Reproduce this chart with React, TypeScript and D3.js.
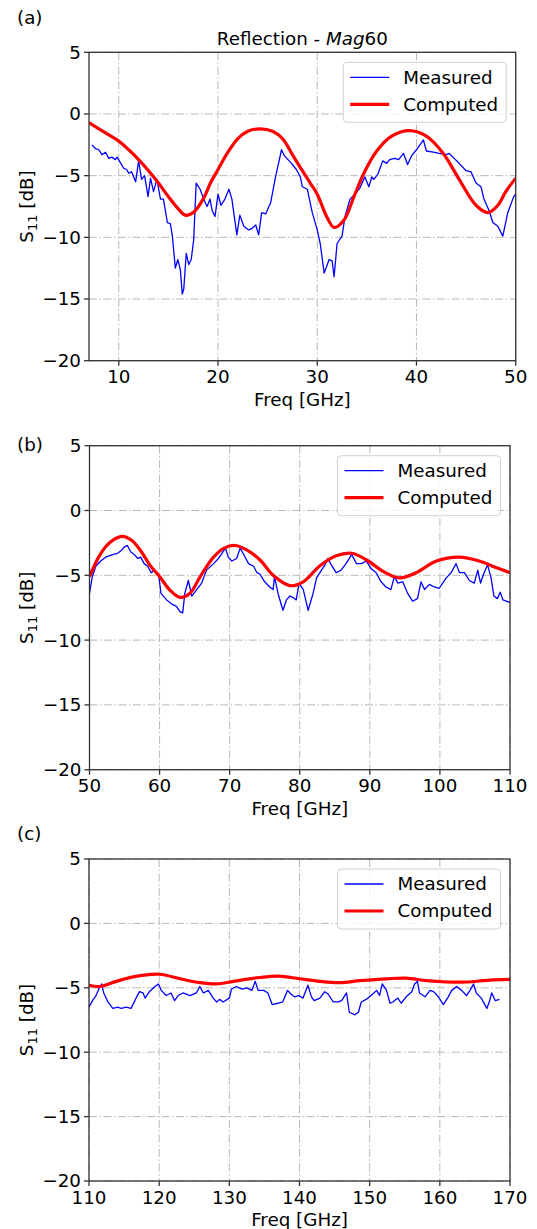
import React from "react";
import * as d3 from "d3";

// S11 readings [GHz, dB] taken off the three panels
const measuredA: [number, number][] = [
  [7.3, -2.5], [7.65, -2.8], [8.0, -2.9], [8.3, -3.3], [8.66, -3.1], [9.0, -3.6], [9.3, -3.5], [9.66, -3.7],
  [9.83, -3.5], [10.2, -4.0], [10.5, -4.4], [10.8, -4.5], [11.0, -4.8], [11.3, -4.7], [11.7, -5.5], [12.0, -3.8],
  [12.3, -5.3], [12.6, -5.0], [12.95, -6.7], [13.2, -5.2], [13.5, -6.3], [13.85, -5.3], [14.2, -6.9], [14.5, -6.9],
  [14.9, -8.8], [15.2, -8.9], [15.4, -9.9], [15.7, -12.5], [15.95, -11.8], [16.2, -12.6], [16.4, -14.6], [16.55, -14.2],
  [16.8, -11.3], [17.05, -12.2], [17.3, -11.8], [17.55, -10.2], [17.8, -5.6], [18.2, -6.1], [18.55, -6.9], [18.9, -7.5],
  [19.2, -6.9], [19.4, -7.8], [19.7, -8.3], [20.0, -6.5], [20.3, -7.4], [20.7, -6.9], [21.1, -6.1], [21.4, -6.9],
  [21.9, -9.8], [22.2, -8.2], [22.6, -9.1], [23.1, -9.4], [23.4, -9.3], [23.8, -9.0], [24.1, -9.8], [24.4, -8.0],
  [24.8, -8.1], [25.3, -7.2], [25.8, -5.1], [26.4, -2.9], [26.7, -3.4], [27.4, -4.0], [27.9, -4.5], [28.3, -5.1],
  [28.5, -5.9], [29.0, -6.1], [29.5, -8.0], [30.0, -9.4], [30.3, -10.5], [30.7, -12.9], [31.2, -11.8], [31.5, -11.9],
  [31.7, -13.2], [32.0, -10.5], [32.5, -9.9], [32.8, -8.3], [33.3, -6.9], [33.8, -6.5], [34.3, -6.0], [34.8, -5.1],
  [35.2, -5.9], [35.5, -5.1], [35.7, -5.3], [36.1, -4.9], [36.6, -3.8], [37.0, -4.0], [37.3, -3.7], [37.8, -3.6],
  [38.2, -3.7], [38.7, -3.2], [39.1, -4.1], [39.5, -3.4], [40.0, -2.9], [40.7, -2.1], [41.0, -3.0], [41.7, -3.1],
  [42.3, -3.2], [43.0, -3.3], [43.3, -3.2], [43.8, -3.6], [44.3, -4.0], [45.0, -4.6], [45.5, -4.7], [46.0, -5.6],
  [46.5, -5.9], [46.8, -6.9], [47.3, -7.8], [47.7, -8.8], [48.2, -9.1], [48.7, -9.9], [49.2, -8.0], [49.8, -6.7],
  [50.0, -6.5],
];
const computedA: [number, number][] = [
  [7, -0.7], [8, -1.2], [9, -1.7], [10, -2.2], [11, -2.9], [12, -3.7], [13, -4.6], [14, -5.6], [15, -6.7],
  [16, -7.7], [16.7, -8.2], [17.5, -8.0], [18.5, -6.9], [19.3, -5.5], [20, -4.5], [21, -3.1], [22, -2.0],
  [23, -1.4], [24.2, -1.2], [25.5, -1.4], [26.5, -2.0], [27.5, -3.3], [28.5, -4.6], [29.3, -5.6], [30, -6.5],
  [31, -8.4], [31.7, -9.2], [32.7, -8.6], [33.7, -6.7], [34.7, -4.8], [36, -3.0], [37.5, -1.8], [39.3, -1.35],
  [41, -1.8], [42.7, -3.2], [44.3, -5.3], [46, -7.4], [47.2, -8.0], [48.2, -7.4], [49, -6.3], [50, -5.2],
];

const measuredB: [number, number][] = [
  [50, -6.4], [50.4, -5.1], [50.9, -4.3], [51.6, -3.9], [52.3, -3.6], [53.3, -3.4], [54.0, -3.3], [54.5, -3.1],
  [55.0, -2.8], [55.4, -2.7], [55.9, -3.2], [56.4, -3.4], [56.9, -3.7], [57.3, -3.6], [57.8, -4.1], [58.3, -4.3],
  [58.8, -4.8], [59.3, -4.6], [59.9, -5.1], [60.2, -6.4], [61.0, -6.9], [61.7, -7.2], [62.4, -7.4], [62.9, -7.8],
  [63.3, -7.9], [63.6, -6.4], [64.1, -5.4], [64.6, -6.6], [65.3, -6.1], [66.0, -5.6], [66.7, -4.6], [67.7, -4.1],
  [68.4, -3.7], [68.9, -3.3], [69.4, -2.9], [69.8, -3.6], [70.3, -3.9], [71.0, -3.7], [71.5, -2.9], [72.0, -3.4],
  [72.7, -4.1], [73.4, -4.3], [73.9, -4.8], [74.3, -4.9], [75.0, -5.5], [75.7, -5.9], [76.2, -6.1], [76.4, -5.1],
  [76.9, -6.4], [77.6, -7.7], [78.1, -6.9], [78.6, -6.6], [79.0, -6.7], [79.5, -6.9], [79.9, -5.6], [80.5, -6.1],
  [81.2, -7.7], [81.9, -6.4], [82.4, -5.2], [83.1, -4.6], [83.6, -4.2], [84.0, -3.7], [84.5, -4.2], [85.2, -4.8],
  [85.9, -4.6], [86.6, -4.1], [87.4, -3.4], [88.1, -4.1], [88.8, -4.1], [89.5, -3.9], [90.2, -4.5], [90.9, -4.8],
  [91.6, -5.5], [92.3, -5.9], [93.0, -6.1], [93.5, -5.1], [94.0, -5.6], [94.7, -5.5], [95.4, -6.4], [96.1, -7.0],
  [96.8, -6.8], [97.3, -5.5], [97.8, -6.1], [98.5, -5.7], [99.2, -5.9], [99.9, -6.0], [100.4, -5.6], [100.9, -5.2],
  [101.6, -4.8], [102.3, -4.1], [102.8, -4.8], [103.5, -4.8], [104.2, -5.4], [104.9, -5.6], [105.4, -4.6], [105.8, -5.6],
  [106.3, -4.8], [106.8, -4.2], [107.3, -5.2], [107.7, -6.6], [108.2, -6.8], [108.6, -6.3], [109.0, -6.9], [110, -7.1],
];
const computedB: [number, number][] = [
  [50, -5.1], [51.3, -3.6], [52.3, -2.8], [53.3, -2.3], [54.7, -2.0], [56, -2.3], [57.3, -3.1], [58.6, -4.2],
  [60, -5.1], [61.4, -6.1], [62.9, -6.7], [64.3, -6.4], [65.8, -5.1], [67.7, -3.6], [69.2, -2.9], [70.8, -2.7],
  [72.3, -3.0], [74.3, -3.8], [76.2, -5.0], [78.6, -5.8], [80.5, -5.5], [82.8, -4.3], [85.2, -3.5], [87.4, -3.3],
  [89.5, -3.8], [91.9, -4.7], [94.2, -5.2], [96.6, -4.8], [99.5, -3.9], [102.8, -3.6], [105.6, -3.9], [108, -4.4],
  [110, -4.8],
];

const measuredC: [number, number][] = [
  [110, -6.5], [110.5, -6.0], [111, -5.6], [111.4, -5.1], [111.8, -4.7], [112.1, -5.4], [112.7, -6.1], [113.4, -6.6],
  [114.1, -6.5], [114.6, -6.6], [115.3, -6.5], [116, -6.6], [116.8, -5.7], [117.2, -5.3], [117.7, -5.4], [118.0, -5.8],
  [118.6, -5.3], [119.4, -4.9], [119.9, -4.7], [120.3, -5.2], [121, -5.6], [121.7, -5.4], [122.2, -6.0], [122.7, -5.6],
  [123.4, -5.4], [124.4, -5.6], [125.3, -5.4], [125.8, -4.9], [126.3, -5.4], [127, -5.2], [127.7, -5.8], [128.2, -6.1],
  [128.6, -5.9], [129.1, -6.1], [130, -5.8], [130.3, -5.1], [131, -4.9], [131.8, -5.1], [132.5, -5.0], [133.2, -5.2],
  [133.7, -4.5], [134.1, -5.2], [134.9, -5.2], [135.5, -5.4], [136.1, -6.3], [136.9, -6.2], [137.6, -6.1], [138.3, -5.2],
  [138.8, -5.5], [139.3, -5.7], [139.9, -5.6], [140.5, -5.8], [141.2, -4.8], [141.7, -5.7], [142.1, -6.0], [142.9, -5.8],
  [143.6, -5.3], [144.1, -5.5], [144.8, -6.1], [145.5, -6.1], [146, -6.0], [146.7, -5.4], [147.1, -6.9], [147.9, -7.1],
  [148.4, -6.9], [148.8, -6.1], [149.5, -5.9], [150.2, -5.6], [151, -5.2], [151.4, -5.6], [151.8, -4.7], [152.4, -5.2],
  [152.9, -6.2], [153.3, -6.1], [154, -5.8], [154.5, -6.2], [155.2, -5.7], [156, -5.3], [156.4, -4.7], [156.8, -4.5],
  [157.1, -5.4], [157.9, -5.7], [158.6, -5.2], [159.1, -5.3], [159.8, -5.7], [160.5, -6.3], [161.2, -5.7], [161.7, -5.2],
  [162.4, -4.9], [163.1, -5.2], [163.8, -5.6], [164.3, -5.2], [164.8, -4.7], [165.2, -5.4], [165.9, -5.8], [166.7, -6.6],
  [167.1, -6.0], [167.4, -5.4], [167.9, -6.0], [168.5, -5.9],
];
const computedC: [number, number][] = [
  [110, -4.8], [111.5, -4.9], [113.9, -4.5], [116.3, -4.15], [120, -3.95], [123, -4.3], [125.8, -4.6], [128.2, -4.7],
  [130.6, -4.5], [134.3, -4.2], [137.1, -4.1], [140, -4.3], [142.9, -4.5], [145.7, -4.6], [148.6, -4.45], [152.4, -4.3],
  [155.2, -4.25], [158.1, -4.45], [161, -4.55], [163.8, -4.55], [167.1, -4.4], [170, -4.35],
];

const yTicks = [5, 0, -5, -10, -15, -20];
const xTicksA = [10, 20, 30, 40, 50];
const xTicksB = [50, 60, 70, 80, 90, 100, 110];
const xTicksC = [110, 120, 130, 140, 150, 160, 170];
const legendLabels = ["Measured", "Computed"];

const FONT = "'DejaVu Sans', sans-serif";
const FS = 18.3;
const fmt = (v: number) => (v < 0 ? "\u2212" + Math.abs(v) : String(v));

type PanelProps = {
  id: string;
  tag: string;
  tagY: number;
  left: number;
  right: number;
  top: number;
  bottom: number;
  xDomain: [number, number];
  xTicks: number[];
  measured: [number, number][];
  computed: [number, number][];
  title?: boolean;
};

const Panel = (p: PanelProps) => {
  const x = d3.scaleLinear().domain(p.xDomain).range([p.left, p.right]);
  const y = d3.scaleLinear().domain([-20, 5]).range([p.bottom, p.top]);
  const line = d3.line<[number, number]>().x((d) => x(d[0])).y((d) => y(d[1]));
  const smooth = d3
    .line<[number, number]>()
    .x((d) => x(d[0]))
    .y((d) => y(d[1]))
    .curve(d3.curveCatmullRom);
  const cx = (p.left + p.right) / 2;
  const cy = (p.top + p.bottom) / 2;
  const lgRight = p.right - 9.5;
  const lgLeft = lgRight - 163;
  const lgTop = p.top + 10;

  return (
    <g>
      <text x={17} y={p.tagY} fontSize={FS}>{p.tag}</text>
      {p.title && (
        <text x={cx} y={45} fontSize={FS} textAnchor="middle">
          Reflection - <tspan fontStyle="italic">Mag</tspan>60
        </text>
      )}
      <clipPath id={"clip" + p.id}>
        <rect x={p.left} y={p.top} width={p.right - p.left} height={p.bottom - p.top} />
      </clipPath>
      {/* grid */}
      <g stroke="#b8b8b8" strokeWidth={1} strokeDasharray="8,2.5,1.5,2.5">
        {p.xTicks.map((t) => (
          <line key={"gx" + t} x1={x(t)} x2={x(t)} y1={p.top} y2={p.bottom} />
        ))}
        {yTicks.map((t) => (
          <line key={"gy" + t} x1={p.left} x2={p.right} y1={y(t)} y2={y(t)} />
        ))}
      </g>
      <g clipPath={`url(#clip${p.id})`} fill="none">
        <path d={line(p.measured) || ""} stroke="#0000ff" strokeWidth={1.3} strokeLinejoin="round" />
        <path d={smooth(p.computed) || ""} stroke="#ff0000" strokeWidth={3.2} />
      </g>
      {/* frame */}
      <rect x={p.left} y={p.top} width={p.right - p.left} height={p.bottom - p.top} fill="none" stroke="#333" strokeWidth={1.3} />
      {/* x ticks */}
      {p.xTicks.map((t) => (
        <g key={"tx" + t}>
          <line x1={x(t)} x2={x(t)} y1={p.bottom} y2={p.bottom + 5} stroke="#333" strokeWidth={1.3} />
          <text x={x(t)} y={p.bottom + 22.5} fontSize={FS} textAnchor="middle">{fmt(t)}</text>
        </g>
      ))}
      {yTicks.map((t) => (
        <g key={"ty" + t}>
          <line x1={p.left - 5} x2={p.left} y1={y(t)} y2={y(t)} stroke="#333" strokeWidth={1.3} />
          <text x={p.left - 8} y={y(t)} dy="0.35em" fontSize={FS} textAnchor="end">{fmt(t)}</text>
        </g>
      ))}
      <text x={cx} y={p.bottom + 45} fontSize={FS} textAnchor="middle">Freq [GHz]</text>
      <text transform={`translate(33,${cy}) rotate(-90)`} fontSize={FS} textAnchor="middle">
        S<tspan fontSize={13} dy={4}>11</tspan>
        <tspan dy={-4}> [dB]</tspan>
      </text>
      {/* legend */}
      <rect x={lgLeft} y={lgTop} width={163} height={60} rx={4} fill="#fff" fillOpacity={0.8} stroke="#d0d0d0" strokeWidth={1} />
      {legendLabels.map((lab, i) => {
        const ly = lgTop + 15 + i * 27;
        return (
          <g key={lab}>
            <line x1={lgLeft + 7} x2={lgLeft + 46} y1={ly} y2={ly}
              stroke={i === 0 ? "#0000ff" : "#ff0000"} strokeWidth={i === 0 ? 1.3 : 3.2} />
            <text x={lgLeft + 60} y={ly} dy="0.35em" fontSize={FS}>{lab}</text>
          </g>
        );
      })}
    </g>
  );
};

export default function App() {
  return (
    <svg width={537} height={1229} fontFamily={FONT} fill="#000"
      style={{ position: "absolute", left: 0, top: 0, background: "#fff" }}>
      <Panel id="a" tag="(a)" tagY={24} left={89} right={515.7} top={52.3} bottom={360.7}
        xDomain={[7, 50]} xTicks={xTicksA} measured={measuredA} computed={computedA} title />
      <Panel id="b" tag="(b)" tagY={451} left={89.5} right={510} top={445.7} bottom={769.7}
        xDomain={[50, 110]} xTicks={xTicksB} measured={measuredB} computed={computedB} />
      <Panel id="c" tag="(c)" tagY={840} left={89} right={510} top={859} bottom={1181}
        xDomain={[110, 170]} xTicks={xTicksC} measured={measuredC} computed={computedC} />
    </svg>
  );
}
